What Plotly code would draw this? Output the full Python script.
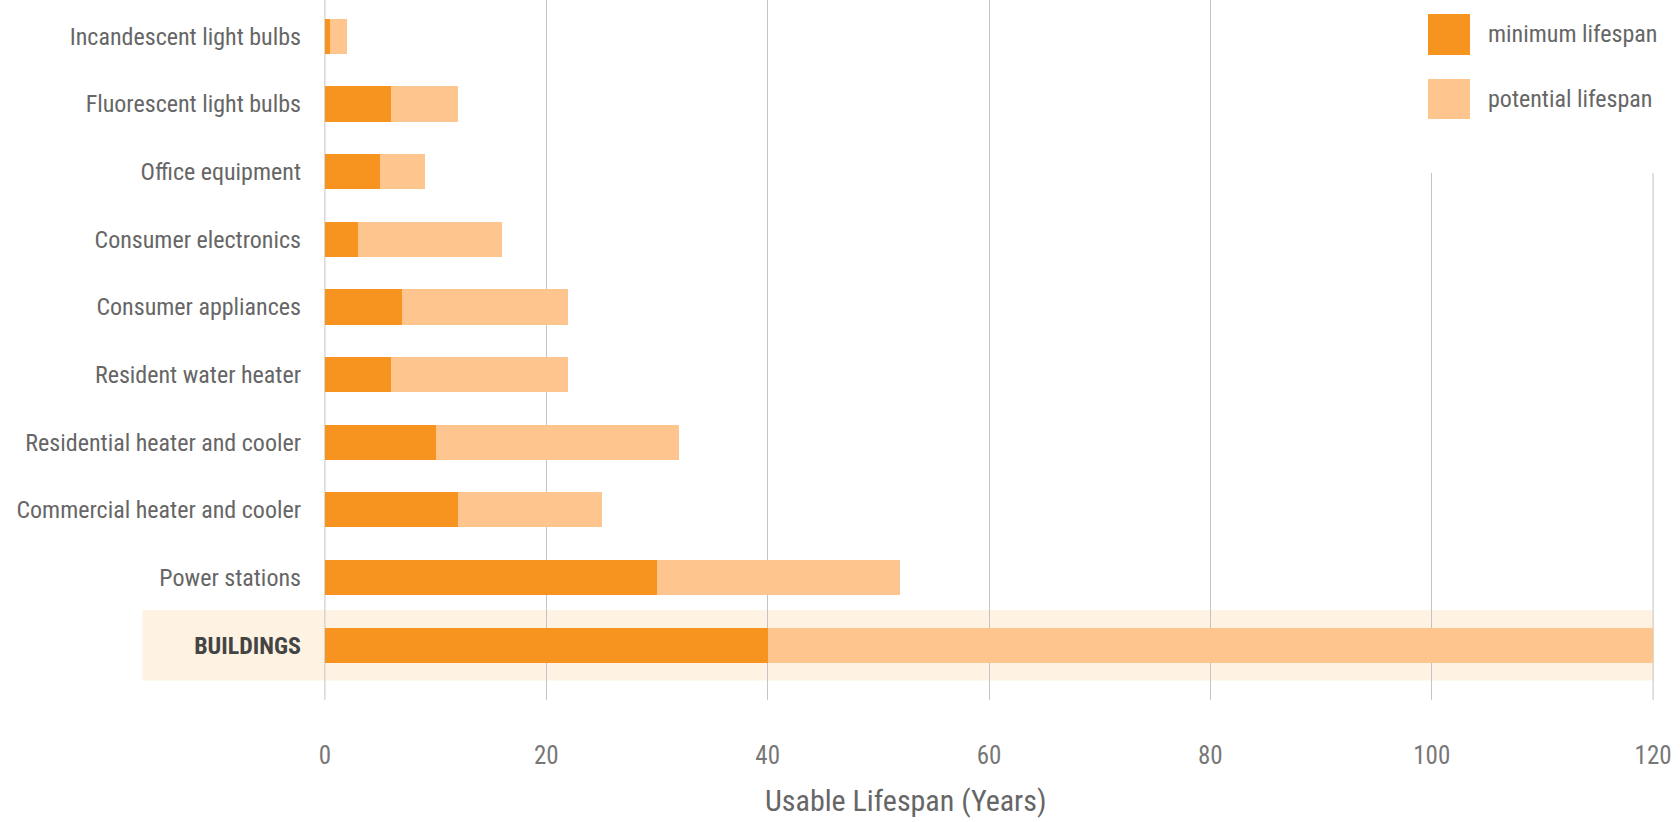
import plotly.graph_objects as go

categories = [
    "Incandescent light bulbs",
    "Fluorescent light bulbs",
    "Office equipment",
    "Consumer electronics",
    "Consumer appliances",
    "Resident water heater",
    "Residential heater and cooler",
    "Commercial heater and cooler",
    "Power stations",
    "BUILDINGS",
]
minimum_lifespan = [0.5, 6, 5, 3, 7, 6, 10, 12, 30, 40]
potential_lifespan = [2, 12, 9, 16, 22, 22, 32, 25, 52, 120]
x_ticks = [0, 20, 40, 60, 80, 100, 120]
legend_labels = ["minimum lifespan", "potential lifespan"]
axis_title = "Usable Lifespan (Years)"

DARK = "#F7941F"
LIGHT = "#FEC68E"
BAND = "#FEF3E3"
GRID = "#C4C4C4"
FONT = "Roboto Condensed, Liberation Sans Narrow, Arial Narrow, DejaVu Sans Condensed, sans-serif"

ticktext = [
    ("<b><span style='color:#444444'>%s</span></b>" % c) if c == "BUILDINGS" else c
    for c in categories
]

fig = go.Figure()
fig.add_trace(go.Bar(
    y=categories, x=potential_lifespan, orientation="h",
    marker=dict(color=LIGHT, line=dict(width=0)), width=0.52,
    name=legend_labels[1], showlegend=False,
))
fig.add_trace(go.Bar(
    y=categories, x=minimum_lifespan, orientation="h",
    marker=dict(color=DARK, line=dict(width=0)), width=0.52,
    name=legend_labels[0], showlegend=False,
))

n = len(categories)
W, H = 1680, 822
L, R, T, B = 324, 26, 0, 122
pw, ph = W - L - R, H - T - B

def px_x(px):
    return (px - L) / pw

def px_y(py):
    return 1 - (py - T) / ph

# highlight band behind the BUILDINGS row
fig.add_shape(type="rect", xref="paper", yref="y",
              x0=px_x(142.5), x1=1.0, y0=n - 1 - 0.52, y1=n - 1 + 0.52,
              fillcolor=BAND, line=dict(width=0), layer="below")

# edge gridlines (plotly omits grid lines on the plot edges)
fig.add_shape(type="line", xref="x", yref="paper",
              x0=x_ticks[0], x1=x_ticks[0], y0=0, y1=1,
              line=dict(color=GRID, width=1), layer="below")
fig.add_shape(type="line", xref="x", yref="paper",
              x0=x_ticks[-1], x1=x_ticks[-1], y0=0, y1=1,
              line=dict(color=GRID, width=1), layer="below")

# white box behind legend (hides gridlines there)
fig.add_shape(type="rect", xref="paper", yref="paper",
              x0=px_x(1300), x1=px_x(1690), y0=px_y(173), y1=1.0,
              fillcolor="white", line=dict(width=0), layer="above")

# manual legend with large swatches
for i, (lab, col) in enumerate(zip(legend_labels, [DARK, LIGHT])):
    y0p, y1p = [14, 79][i], [55, 119][i]
    fig.add_shape(type="rect", xref="paper", yref="paper",
                  x0=px_x(1428), x1=px_x(1470), y0=px_y(y1p), y1=px_y(y0p),
                  fillcolor=col, line=dict(width=0), layer="above")
    fig.add_annotation(xref="paper", yref="paper", x=px_x(1486), y=px_y((y0p + y1p) / 2),
                       text=lab, showarrow=False, xanchor="left", yanchor="middle",
                       font=dict(family=FONT, size=24, color="#666666"))

# axis title (offset left of plot centre, as in the original)
fig.add_annotation(xref="paper", yref="paper", x=px_x(906), y=px_y(800),
                   text=axis_title, showarrow=False, xanchor="center", yanchor="middle",
                   font=dict(family=FONT, size=30, color="#666666"))

fig.update_layout(
    width=W, height=H,
    margin=dict(l=L, r=R, t=T, b=B, autoexpand=False),
    barmode="overlay",
    paper_bgcolor="white",
    plot_bgcolor="rgba(0,0,0,0)",
    font=dict(family=FONT, color="#666666"),
    bargap=0,
)
fig.update_xaxes(
    range=[-0.08, 120.08], tickvals=x_ticks, ticktext=[str(v) for v in x_ticks],
    showgrid=True, gridcolor=GRID, gridwidth=1,
    zeroline=False, showline=False,
    tickfont=dict(family=FONT, size=25, color="#777777"),
    ticklabelstandoff=38,
    fixedrange=True,
)
fig.update_yaxes(
    type="category", categoryorder="array", categoryarray=categories,
    tickvals=categories, ticktext=ticktext,
    range=[n - 1 + 0.81, -0.537],
    showgrid=False, zeroline=False, showline=False,
    tickfont=dict(family=FONT, size=24, color="#666666"),
    ticklabelstandoff=22,
    fixedrange=True,
)

fig.write_html("out.html", config={"displayModeBar": False})
